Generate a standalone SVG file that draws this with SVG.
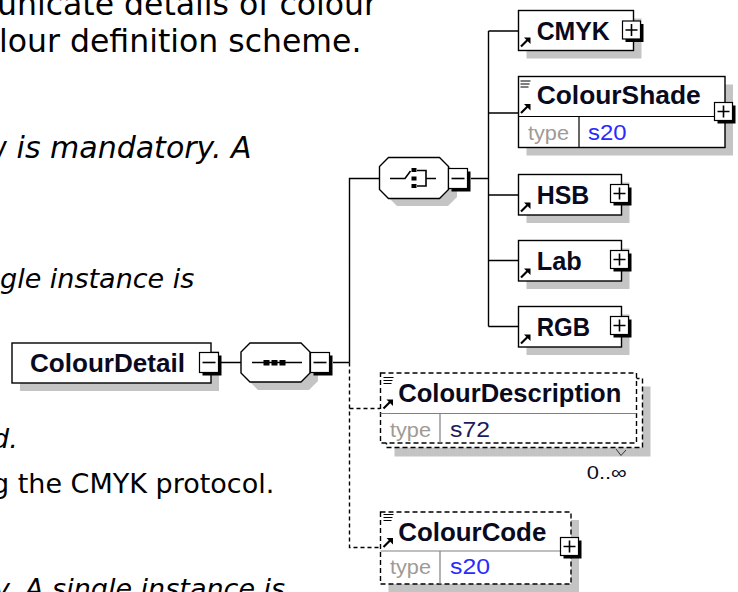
<svg xmlns="http://www.w3.org/2000/svg" width="738" height="592" viewBox="0 0 738 592">
<style>
.doc{font-family:"DejaVu Sans",Verdana,sans-serif;fill:#000}
.it{font-style:italic}
.box{fill:#fff;stroke:#000;stroke-width:1.4}
.dbox{fill:#fff;stroke:#000;stroke-width:1.4;stroke-dasharray:5,3}
.sh{fill:#c4c4c4;stroke:none}
.name{font-family:"Liberation Sans",Arial,sans-serif;font-weight:bold;font-size:25px;fill:#0a0a1e}
.tl{font-family:"Liberation Sans",Arial,sans-serif;font-size:20px;fill:#a09a94}
.tv{font-family:"Liberation Sans",Arial,sans-serif;font-size:22px;fill:#2a2aff}
.tvd{font-family:"Liberation Sans",Arial,sans-serif;font-size:22px;fill:#1c1c5c}
.div{stroke:#000;stroke-width:1.2;fill:none}
.divg{stroke:#808080;stroke-width:1.2;fill:none}
.ln{stroke:#000;stroke-width:1.4;fill:none}
.dl{stroke:#000;stroke-width:1.4;fill:none;stroke-dasharray:4,3}
.pm{fill:#fff;stroke:#000;stroke-width:1.2}
.pmsh{fill:#000}
.sym{stroke:#000;stroke-width:1.6;fill:none}
</style>
<defs>
<g id="plus">
<rect class="pmsh" x="3" y="3" width="18" height="18"/>
<rect class="pm" x="0" y="0" width="18" height="18"/>
<path class="sym" d="M3,9H15M9,3V15"/>
</g>
<g id="minus">
<rect class="pmsh" x="3" y="3" width="19" height="20"/>
<rect class="pm" x="0" y="0" width="19" height="20"/>
<path class="sym" d="M3,10H16"/>
</g>
<g id="arr">
<path d="M0.5,10 L7,3.5" stroke="#000" stroke-width="2.2" fill="none"/>
<path d="M3.5,1 L10,1 L10,7.5 Z" fill="#000"/>
</g>
<g id="doci">
<path d="M0,0.5H10M0,3.5H9M0,6.5H8" stroke="#000" stroke-width="1.1" fill="none"/>
</g>
</defs>

<!-- background documentation text -->
<g id="doc-text">
<text class="doc" x="-3" y="15" font-size="31.5">unicate details of colour</text>
<text class="doc" x="-1" y="51.5" font-size="31.5">lour definition scheme.</text>
<text class="doc it" x="-17.5" y="158" font-size="30">w is mandatory. A</text>
<text class="doc it" x="0" y="288" font-size="27">gle instance is</text>
<text class="doc it" x="-8" y="448" font-size="27">d.</text>
<text class="doc" x="-8" y="493" font-size="27">g the CMYK protocol.</text>
<text class="doc it" x="-6" y="598" font-size="27">y. A single instance is</text>
</g>

<!-- connectors -->
<g id="connectors">
<path class="ln" d="M221,362.5H241M333,362.5H349.5M349.5,362.5V178.5H379.5M471,178.5H488.5M488.5,31V326.5M488.5,31H518.5M488.5,113H518.5M488.5,195H518.5M488.5,260.5H518.5M488.5,326.5H518.5"/>
<path class="dl" d="M349.5,362.5V547.5H380.5M349.5,408.5H380.5"/>
</g>

<!-- ColourDetail -->
<g id="ColourDetail">
<rect class="sh" x="20" y="351" width="199" height="40"/>
<rect class="box" x="12" y="343" width="199" height="40"/>
<text class="name" x="30" y="372" textLength="155" lengthAdjust="spacingAndGlyphs">ColourDetail</text>
<use href="#minus" x="199.5" y="352.5"/>
</g>

<!-- sequence -->
<g id="sequence">
<path class="sh" d="M258,351H309L318,360V381L309,390H258L249,381V360Z"/>
<path class="box" d="M250,343H301L310,352V373L301,382H250L241,373V352Z"/>
<path class="sym" d="M252,362.5H302"/>
<rect x="263.5" y="360" width="6" height="5.5" fill="#000"/>
<rect x="271.5" y="360" width="6" height="5.5" fill="#000"/>
<rect x="279.5" y="360" width="6" height="5.5" fill="#000"/>
<use href="#minus" x="310.5" y="352.5"/>
</g>

<!-- choice -->
<g id="choice">
<path class="sh" d="M397,165H448L457,174V197L448,206H397L388,197V174Z"/>
<path class="box" d="M388.5,157.5H439.5L448.5,166.5V189.5L439.5,198.5H388.5L379.5,189.5V166.5Z"/>
<path class="sym" d="M390,178.5H405L410.5,171"/>
<rect x="411.5" y="168" width="5" height="4" fill="#000"/>
<rect x="411.5" y="176.5" width="5" height="4" fill="#000"/>
<rect x="411.5" y="184" width="5" height="4" fill="#000"/>
<path class="sym" d="M417,170.5H426V186H417M426,178.5H436"/>
<use href="#minus" x="448.5" y="168.5"/>
</g>

<!-- CMYK -->
<g id="CMYK">
<rect class="sh" x="526.5" y="18.5" width="115" height="40"/>
<rect class="box" x="518.5" y="10.5" width="115" height="40"/>
<text class="name" x="536.7" y="39.5" textLength="73" lengthAdjust="spacingAndGlyphs">CMYK</text>
<use href="#arr" x="520.5" y="36.5"/>
<use href="#plus" x="622.5" y="21"/>
</g>

<!-- ColourShade -->
<g id="ColourShade">
<rect class="sh" x="526.5" y="84.5" width="206.5" height="71"/>
<rect class="box" x="518.5" y="76.5" width="206.5" height="71"/>
<path class="div" d="M518.5,116.5H725M579,116.5V147.5"/>
<text class="name" x="536.7" y="104" textLength="164" lengthAdjust="spacingAndGlyphs">ColourShade</text>
<use href="#doci" x="520.5" y="80.5"/>
<use href="#arr" x="520.5" y="103"/>
<text class="tl" x="528" y="139.5" textLength="41" lengthAdjust="spacingAndGlyphs">type</text>
<text class="tv" x="588" y="139.5" textLength="38.5" lengthAdjust="spacingAndGlyphs">s20</text>
<use href="#plus" x="714.5" y="102.5"/>
</g>

<!-- HSB -->
<g id="HSB">
<rect class="sh" x="526.5" y="182.5" width="103" height="40.5"/>
<rect class="box" x="518.5" y="174.5" width="103" height="40.5"/>
<text class="name" x="536.7" y="203.5" textLength="52.6" lengthAdjust="spacingAndGlyphs">HSB</text>
<use href="#arr" x="520.5" y="201.5"/>
<use href="#plus" x="610.5" y="184.5"/>
</g>

<!-- Lab -->
<g id="Lab">
<rect class="sh" x="526.5" y="248.5" width="103" height="40.5"/>
<rect class="box" x="518.5" y="240.5" width="103" height="40.5"/>
<text class="name" x="536.7" y="269.5" textLength="45" lengthAdjust="spacingAndGlyphs">Lab</text>
<use href="#arr" x="520.5" y="267.5"/>
<use href="#plus" x="610.5" y="250.5"/>
</g>

<!-- RGB -->
<g id="RGB">
<rect class="sh" x="526.5" y="314.5" width="103" height="40.5"/>
<rect class="box" x="518.5" y="306.5" width="103" height="40.5"/>
<text class="name" x="536.7" y="335.5" textLength="53.3" lengthAdjust="spacingAndGlyphs">RGB</text>
<use href="#arr" x="520.5" y="333.5"/>
<use href="#plus" x="610.5" y="316.5"/>
</g>

<!-- ColourDescription -->
<g id="ColourDescription">
<rect class="sh" x="394.5" y="386.5" width="256" height="70"/>
<rect class="dbox" x="386.5" y="378.5" width="256" height="69"/>
<rect class="dbox" x="380.5" y="373" width="256" height="70"/>
<path class="divg" d="M380.5,413.5H636.5M440,413.5V443"/>
<text class="name" x="398.3" y="402" textLength="223" lengthAdjust="spacingAndGlyphs">ColourDescription</text>
<use href="#doci" x="383.5" y="377"/>
<use href="#arr" x="383" y="398.5"/>
<text class="tl" x="390" y="436.5" textLength="41" lengthAdjust="spacingAndGlyphs">type</text>
<text class="tvd" x="450" y="436.5" textLength="40" lengthAdjust="spacingAndGlyphs">s72</text>
<path d="M616,449L621,455.5L626,450" stroke="#333" stroke-width="1" fill="none"/>
<text x="586.7" y="479" font-family="Liberation Sans, Arial, sans-serif" font-size="19" fill="#0a0a1e" textLength="40" lengthAdjust="spacingAndGlyphs">0..∞</text>
</g>

<!-- ColourCode -->
<g id="ColourCode">
<rect class="sh" x="388.5" y="520" width="190.5" height="72"/>
<rect class="dbox" x="380.5" y="512" width="190.5" height="72"/>
<path class="divg" d="M380.5,551H571M440,551V584"/>
<text class="name" x="398.3" y="540.5" textLength="148" lengthAdjust="spacingAndGlyphs">ColourCode</text>
<use href="#doci" x="383.5" y="514"/>
<use href="#arr" x="383" y="537"/>
<text class="tl" x="390" y="573.5" textLength="41" lengthAdjust="spacingAndGlyphs">type</text>
<text class="tv" x="450" y="573.5" textLength="40" lengthAdjust="spacingAndGlyphs">s20</text>
<use href="#plus" x="560.5" y="537.5"/>
</g>
</svg>
